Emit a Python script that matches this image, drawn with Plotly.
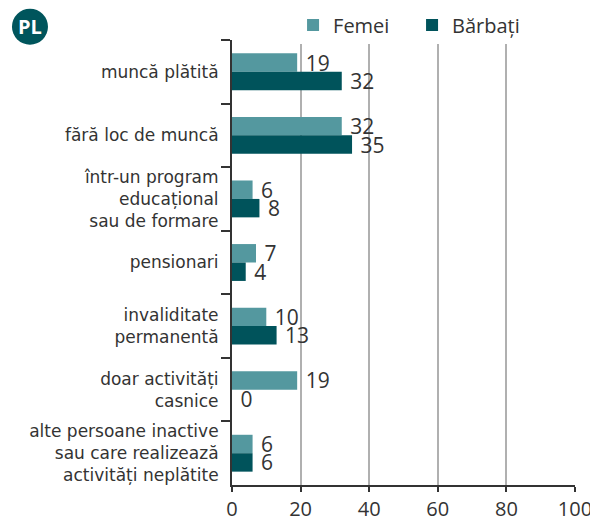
import plotly.graph_objects as go

categories = [
    "muncă plătită",
    "fără loc de muncă",
    "într-un program<br>educațional<br>sau de formare",
    "pensionari",
    "invaliditate<br>permanentă",
    "doar activități<br>casnice",
    "alte persoane inactive<br>sau care realizează<br>activități neplătite",
]
femei = [19, 32, 6, 7, 10, 19, 6]
barbati = [32, 35, 8, 4, 13, 0, 6]
x_ticks = [0, 20, 40, 60, 80, 100]

FONT = "Open Sans"
LFONT = "DejaVu Sans"
C_F = "#54989f"
C_B = "#00535b"
TXT = "#333333"

fig = go.Figure()
fig.add_trace(go.Bar(
    y=categories, x=femei, name="Femei", orientation="h",
    marker=dict(color=C_F, line=dict(width=0)),
    text=femei, textposition="outside", texttemplate=" %{x}",
    constraintext="none",
    textfont=dict(family=FONT, size=21, color=TXT), cliponaxis=False,
))
fig.add_trace(go.Bar(
    y=categories, x=barbati, name="Bărbați", orientation="h",
    marker=dict(color=C_B, line=dict(width=0)),
    text=barbati, textposition="outside", texttemplate=" %{x}",
    constraintext="none",
    textfont=dict(family=FONT, size=21, color=TXT), cliponaxis=False,
))

fig.update_layout(
    width=590, height=514,
    margin=dict(l=224, r=23, t=32, b=37, autoexpand=False),
    paper_bgcolor="white", plot_bgcolor="white",
    barmode="group", bargap=0.42, bargroupgap=0,
    font=dict(family=FONT, color=TXT),
    legend=dict(orientation="h", x=0.178, xanchor="left", y=0.99, yanchor="bottom",
                font=dict(family=FONT, size=20, color=TXT),
                entrywidth=74, entrywidthmode="pixels", itemsizing="constant",
                tracegroupgap=0),
    xaxis=dict(range=[0, 100], tickvals=x_ticks, showgrid=True, gridcolor="#b0b0b0",
               gridwidth=2, zeroline=False, showline=True, linecolor="#333333", linewidth=2,
               ticks="outside", ticklen=5, tickcolor="#333333", tickwidth=2,
               tickfont=dict(family=FONT, size=20, color=TXT)),
    yaxis=dict(autorange="reversed", tickson="boundaries", ticks="outside", ticklen=9,
               tickcolor="#333333", tickwidth=2, showline=True, linecolor="#333333",
               linewidth=2, showgrid=False, ticklabelstandoff=8,
               tickfont=dict(family=LFONT, size=17, color=TXT)),
)

fig.add_shape(type="circle", xref="paper", yref="paper", layer="above",
              xsizemode="pixel", ysizemode="pixel",
              xanchor=-0.589, yanchor=1.030, x0=-18, x1=18, y0=-18, y1=18,
              fillcolor="#00555c", line=dict(width=0))
fig.add_annotation(text="<b>PL</b>", xref="paper", yref="paper", x=-0.589, y=1.030,
                   xanchor="center", yanchor="middle",
                   showarrow=False, font=dict(family=FONT, size=20, color="white"))

fig.write_html("out.html")
